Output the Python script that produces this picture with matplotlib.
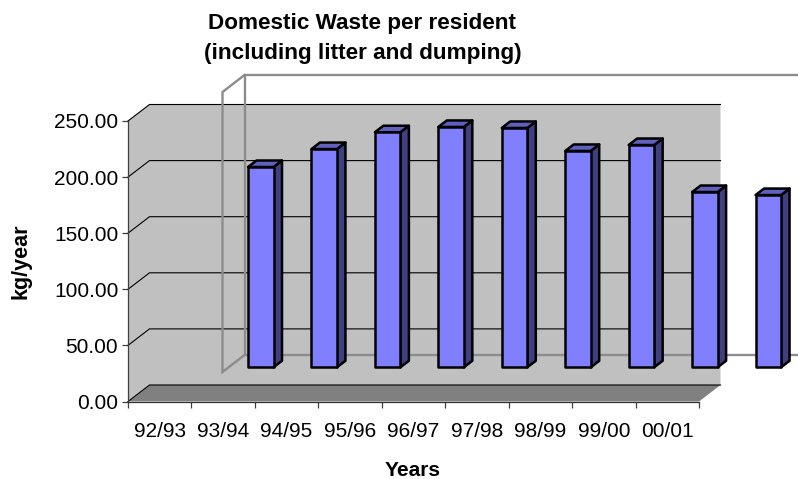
import numpy as np
import matplotlib
matplotlib.use("Agg")
import matplotlib.pyplot as plt
from matplotlib.patches import Polygon

plt.rcParams['font.family'] = ['Liberation Sans', 'DejaVu Sans']

# Axis labels and values
year_labels = ['92/93', '93/94', '94/95', '95/96', '96/97', '97/98', '98/99', '99/00', '00/01']
waste_per_resident = [209, 225, 240, 244.7, 243.8, 223.3, 228.6, 186.7, 184]
value_ticks = [0, 50, 100, 150, 200, 250]

W, H = 798, 479
fig = plt.figure(figsize=(W / 100, H / 100), dpi=100)
fig.patch.set_facecolor('white')

# The front plane of the box is the data area
left, right, top, bottom = 128, 699, 121, 401.5
ax = fig.add_axes([left / W, 1 - bottom / H, (right - left) / W, (bottom - top) / H])
ax.set_xlim(0, len(year_labels))
ax.set_ylim(0, 250)
ax.patch.set_visible(False)
for s in ax.spines.values():
    s.set_visible(False)

ux = (right - left) / len(year_labels)   # pixels per category
uy = (bottom - top) / 250                # pixels per kg/year

# Box depth and bar geometry, in data units
depth_x, depth_y = 21.5 / ux, 16.5 / uy
bar_dx, bar_dy = 8.5 / ux, 6.5 / uy
bar_w = 25.5 / ux
bar_base = (bottom - 367.3) / uy
bar_pos = np.arange(len(waste_per_resident)) + (248 - left) / ux


def poly(pts, **kw):
    p = Polygon(pts, closed=True, clip_on=False, **kw)
    ax.add_patch(p)
    return p


nx = len(year_labels)
# Side and back walls as one shape, then the floor
poly([(0, 0), (depth_x, depth_y), (nx + depth_x, depth_y), (nx + depth_x, 250 + depth_y),
      (depth_x, 250 + depth_y), (0, 250)],
     facecolor='#C0C0C0', edgecolor='none', zorder=1)
poly([(0, 0), (nx, 0), (nx + depth_x, depth_y), (depth_x, depth_y)],
     facecolor='#808080', edgecolor='none', zorder=1)

# Gridlines wrap around the side wall and the back wall
for v in value_ticks:
    ax.plot([0, depth_x, nx + depth_x], [v, v + depth_y, v + depth_y],
            color='black', lw=0.8, clip_on=False, zorder=2, solid_joinstyle='miter')

# Grey outline frame standing in front of the back wall
fx0, fx1, fx_end = (222.5 - left) / ux, (244.5 - left) / ux, (798 - left) / ux
fy_top_f, fy_top_b = (bottom - 92) / uy, (bottom - 75) / uy
fy_bot_f, fy_bot_b = (bottom - 372) / uy, (bottom - 355) / uy
frame = dict(color='#8C8C8C', lw=1.7, clip_on=False, zorder=3, solid_joinstyle='miter')
ax.plot([fx_end, fx1, fx0, fx0, fx1, fx_end],
        [fy_top_b, fy_top_b, fy_top_f, fy_bot_f, fy_bot_b, fy_bot_b], **frame)
ax.plot([fx1, fx1], [fy_top_b, fy_bot_b], **frame)

# Bars: front face plus extruded side and top
edge = dict(edgecolor='black', linewidth=1.8, joinstyle='round')
for x, v in zip(bar_pos, waste_per_resident):
    poly([(x + bar_w, bar_base), (x + bar_w + bar_dx, bar_base + bar_dy),
          (x + bar_w + bar_dx, v + bar_dy), (x + bar_w, v)],
         facecolor='#404080', zorder=4, **edge)
    poly([(x, v), (x + bar_w, v), (x + bar_w + bar_dx, v + bar_dy), (x + bar_dx, v + bar_dy)],
         facecolor='#6060C0', zorder=4, **edge)
ax.bar(bar_pos, np.array(waste_per_resident) - bar_base, bottom=bar_base, width=bar_w,
       align='edge', facecolor='#8080FF', clip_on=False, zorder=5, **edge)

# Axis lines
ax.plot([0, 0], [0, 250], color='#404040', lw=0.9, clip_on=False, zorder=6)
ax.plot([0, nx], [0, 0], color='#303030', lw=0.9, clip_on=False, zorder=6)

ax.set_yticks(value_ticks)
ax.set_yticklabels([f'{v:.2f}' for v in value_ticks], fontsize=15)
ax.set_xticks(np.arange(nx + 1))
ax.set_xticklabels([])
ax.set_xticks(np.arange(nx) + 0.5, labels=year_labels, minor=True, fontsize=15)
ax.tick_params(axis='y', length=4, width=0.9, color='#404040', pad=3)
ax.tick_params(axis='x', which='major', length=4.2, width=0.9, color='#404040')
ax.tick_params(axis='x', which='minor', length=0, pad=14.5)

fig.text(362.5 / W, 1 - 29.5 / H, 'Domestic Waste per resident', ha='center', va='baseline',
         fontsize=16.2, fontweight='bold')
fig.text(362.5 / W, 1 - 59.5 / H, '(including litter and dumping)', ha='center', va='baseline',
         fontsize=16.2, fontweight='bold')
fig.text(21 / W, 1 - 261 / H, 'kg/year', rotation=90, ha='center', va='center',
         fontsize=15.5, fontweight='bold')
fig.text(413 / W, 1 - 470.5 / H, 'Years', ha='center', va='center',
         fontsize=15, fontweight='bold')

fig.savefig('out.png', dpi=100)
